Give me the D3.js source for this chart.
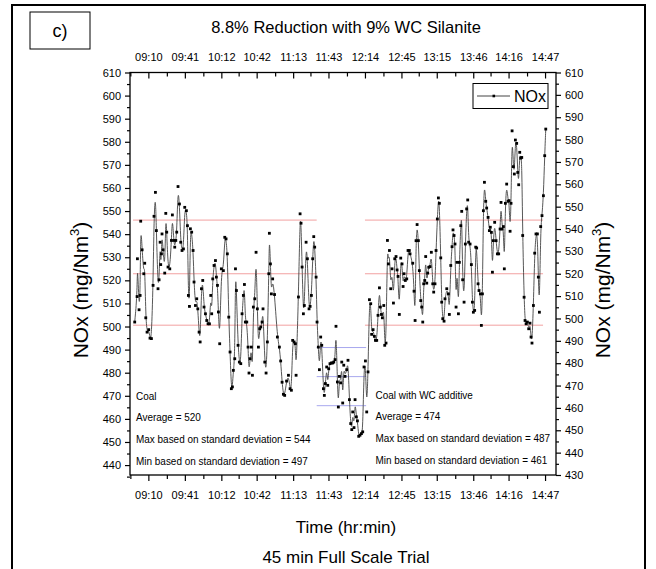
<!DOCTYPE html>
<html><head><meta charset="utf-8">
<script src="https://cdn.jsdelivr.net/npm/d3@7/dist/d3.min.js"></script>
<style>
html,body{margin:0;padding:0;background:#fff;}
svg text{font-family:"Liberation Sans",Arial,Helvetica,sans-serif;fill:#000;}
</style></head>
<body><svg id="c" width="656" height="569"></svg>
<script>
// ---------- DATA ----------
const title = "8.8% Reduction with 9% WC Silanite";
const panelLabel = "c)";
const xTitle = "Time (hr:min)";
const subTitle = "45 min Full Scale Trial";
const seriesName = "NOx";
const timeTickLabels = ["09:10","09:41","10:12","10:42","11:13","11:43","12:14","12:45","13:15","13:46","14:16","14:47"];
const leftTicks = [440,450,460,470,480,490,500,510,520,530,540,550,560,570,580,590,600,610];
const rightTicks = [430,440,450,460,470,480,490,500,510,520,530,540,550,560,570,580,590,600,610];
// time in minutes after midnight
const timeMin = [
538.4,540.4,540.7,542.1,543.0,543.5,544.7,546.1,546.9,547.8,548.9,550.3,551.4,552.6,554.0,554.8,556.0,556.8,558.2,559.1,
560.0,560.5,561.1,561.6,562.5,563.9,564.8,565.6,566.7,568.2,569.6,570.4,571.6,572.4,573.3,574.1,575.2,576.4,577.5,578.6,
579.8,580.9,582.3,583.2,584.0,584.9,585.7,586.8,588.0,588.8,590.0,591.1,592.0,593.1,594.0,595.1,596.2,597.3,598.5,599.6,
600.7,601.9,603.0,603.8,604.7,605.8,607.0,607.8,608.7,609.5,610.6,612.0,613.7,614.9,616.0,617.1,618.3,619.4,620.5,621.4,
622.2,623.4,624.0,624.8,626.2,627.3,628.5,629.6,630.7,631.6,632.4,633.6,634.7,635.5,636.4,637.5,638.4,639.2,640.4,641.5,
642.6,643.5,644.6,645.5,646.6,647.4,648.9,650.0,651.1,652.3,652.8,653.7,654.5,
655.6,657.2,659.6,661.3,662.4,663.6,664.7,665.8,667.4,669.0,670.4,671.5,672.6,673.8,674.9,675.5,677.5,678.9,679.7,680.6,
681.7,682.5,684.0,685.1,686.5,687.4,688.5,689.6,690.5,691.3,692.5,693.3,694.4,695.3,696.4,697.3,698.7,699.5,700.4,701.5,
702.4,703.2,704.3,705.5,706.6,707.5,708.6,709.4,710.6,711.4,712.3,713.4,714.3,715.1,716.0,717.1,718.5,719.6,720.8,721.9,
722.8,723.6,724.7,725.6,726.7,727.6,728.7,729.8,731.0,732.1,733.2,734.4,735.5,736.6,737.8,738.9,739.7,740.9,742.0,742.9,
744.0,745.1,746.3,747.1,748.0,748.8,750.0,750.8,751.9,753.1,753.9,754.8,755.9,757.0,758.2,759.3,760.4,761.3,762.1,763.2,
764.4,765.5,766.4,767.2,768.3,769.5,770.6,771.7,
772.3,774.6,775.7,776.6,777.4,778.3,779.4,780.2,781.4,782.2,783.1,783.9,784.8,785.6,786.5,787.3,788.2,789.3,790.4,791.6,
792.4,793.5,794.4,795.5,796.4,797.2,798.4,799.2,800.1,801.2,802.0,803.5,804.9,805.7,806.9,808.0,808.8,809.7,810.5,811.4,
812.2,813.4,814.2,815.4,816.2,817.0,818.2,819.3,820.4,821.3,822.1,823.3,824.4,825.3,826.1,827.2,828.1,828.9,830.1,830.9,
832.1,832.9,833.8,834.6,835.5,836.6,837.4,838.6,839.7,840.5,841.4,842.3,843.1,844.2,845.4,846.5,847.6,848.8,849.6,850.5,
851.6,852.4,853.3,854.4,855.6,856.4,857.3,858.1,859.0,860.1,860.9,861.8,862.9,863.8,864.6,865.5,866.3,867.2,868.0,869.2,
870.0,870.9,872.0,873.1,874.2,875.1,875.9,877.1,878.2,879.3,880.5,881.3,882.2,883.3,884.4,885.6,886.7,887.6
];
const noxValues = [
498.4,509.8,526.7,503.9,510.3,543.5,530.7,520,524.7,500.3,493.9,495,491.2,491,514.8,545.7,556.4,539.3,513.3,517.3,
534.1,524.1,528.9,537.8,530.7,520.3,547,538.6,523,522.2,534.9,546.3,534.9,531.9,534.9,538.6,559,551.2,534.1,530.4,
531.1,549.7,548.2,541.5,510.3,505.4,540.1,538.6,530.4,516.3,505.8,508.8,504.3,493.9,489.5,513.3,517,505.1,502.1,499.1,
497.6,497.6,510.3,502.1,517.7,523.7,525.9,518.5,514.8,502.9,488.7,522.2,521.4,536.3,535.6,528.9,500.6,485,468.6,469.4,
476.8,482,522.2,512.5,488,480.5,479.8,502.1,510.3,515.2,498.4,498.4,487.2,475.6,482,487.2,474.6,505.1,508.8,529.6,
504.3,487.2,495.4,496.2,498.4,504.3,480.5,475.6,489.5,520,538.1,524.4,511,
517.7,510.7,491.7,487.2,481,471.5,466.1,465.6,472,474.6,468.6,467.9,490.2,489.5,488.7,474.6,509.6,546.8,542.6,523,
502.1,505.8,534.1,526.7,504.3,505.4,510.3,526.7,536.6,531.9,518.5,498.4,487.2,477.1,491.7,488,468.6,465.6,470.9,478.3,
470.1,477.5,479.8,480.1,480.1,480.5,481.6,496.5,471.6,460.4,474.1,471.2,480.5,462.2,479.1,474.1,477.1,481.3,463.7,453,
450.3,458.2,451.2,463.7,456,454.2,447.3,447.8,448.5,449.3,478.3,481,458.2,476.1,508.4,506.6,492.9,495,492,490.2,
490.2,501.4,513.7,505.1,501.8,500.3,505.8,488,489,534.9,524.4,530.4,513.3,522.2,506.9,526.7,527.7,521.7,518.8,501.8,
527,524.4,514.3,520,517,517.7,530.4,530.4,
528.9,524.7,512.2,499.1,534.8,542,534.8,521.4,508,505.1,498.4,515.5,517,527.7,515.8,520.3,522.9,523.2,529.6,515.5,
511.8,515.5,530.4,544.5,553.9,551.5,527.1,507.3,499.9,498.8,508.8,513.3,511,501.8,523.7,532.1,539.6,537.1,533.3,505.1,
525.1,502.1,525.1,541.5,547.9,517.3,507.3,533.3,549,553,534.1,533.3,524.1,507.3,502.8,503.6,531.9,531.5,515.5,512.5,
511,496.9,511,548.2,560.9,552.4,549.4,545.2,539.3,540.8,538.5,520.7,534.8,543,534.8,528.9,528.9,540,551.9,540,
541.1,522.2,551.5,560.1,552.4,552.7,539,551.5,583.9,567.9,564.6,579.8,578.3,565.3,559.8,574.3,571.7,572,537.1,509.5,
499.1,497.6,498.4,495.4,497.9,491.7,489,505.8,529.2,537.8,537.8,518.5,502.8,541.1,546,554.9,572.8,584.7
];
// statistic reference lines: [startMin, endMin] and values
const coalPeriods = [[537, 693], [734, 885.3]];
const coalStats = [544, 520, 497];
const additivePeriod = [693, 735];
const additiveStats = [487, 474, 461];
const coalNotes = ["Coal","Average = 520","Max based on standard deviation = 544","Min based on standard deviation = 497"];
const additiveNotes = ["Coal with WC additive","Average = 474","Max based on standard deviation = 487","Min based on standard deviation = 461"];

// ---------- DRAW ----------
const svg = d3.select("#c");
const L = 130, R = 556, T = 72.5, B = 475;
const toMin = s => { const [h,m] = s.split(":").map(Number); return h*60+m; };
const tickVals = timeTickLabels.map(toMin);
const x = d3.scaleLinear().domain([534.4, 896.3]).range([L, R]);
const yR = d3.scaleLinear().domain([430, 610]).range([B, T]);
const yL = d3.scaleLinear().domain([435.7, 610]).range([B, T]);

// outer frame
svg.append("rect").attr("x",12).attr("y",5).attr("width",633).attr("height",580)
  .attr("fill","none").attr("stroke","#000").attr("stroke-width",2);
// panel label box
svg.append("rect").attr("x",30).attr("y",12).attr("width",60).attr("height",37)
  .attr("fill","#fff").attr("stroke","#000").attr("stroke-width",1);
svg.append("text").attr("x",60).attr("y",37).attr("text-anchor","middle").attr("font-size",18).text(panelLabel);
svg.append("text").attr("x",346).attr("y",33).attr("text-anchor","middle").attr("font-size",16.5).text(title);

const minorVals = [];
for (let i=0;i<tickVals.length;i++){ minorVals.push(tickVals[i]-15.3); }
minorVals.push(tickVals[tickVals.length-1]+15.3);
const minorIn = minorVals.filter(v=>v>=x.domain()[0] && v<=x.domain()[1]);

function styleAxis(g){ g.select(".domain").remove(); g.selectAll("line").attr("stroke","#000").attr("stroke-width",1.2);
  g.selectAll("text").attr("font-size",11).attr("font-family",'"Liberation Sans",Arial,sans-serif'); }

// bottom axis
const gb = svg.append("g").attr("transform",`translate(0,${B})`)
  .call(d3.axisBottom(x).tickValues(tickVals).tickFormat((d,i)=>timeTickLabels[i]).tickSize(6).tickPadding(10));
styleAxis(gb);
const gbm = svg.append("g").attr("transform",`translate(0,${B})`)
  .call(d3.axisBottom(x).tickValues(minorIn).tickFormat("").tickSize(4));
styleAxis(gbm);
// top axis (ticks inward)
const gt = svg.append("g").attr("transform",`translate(0,${T})`)
  .call(d3.axisTop(x).tickValues(tickVals).tickFormat((d,i)=>timeTickLabels[i]).tickSizeInner(-6).tickSizeOuter(0).tickPadding(12));
styleAxis(gt);
const gtm = svg.append("g").attr("transform",`translate(0,${T})`)
  .call(d3.axisTop(x).tickValues(minorIn).tickFormat("").tickSizeInner(-4).tickSizeOuter(0));
styleAxis(gtm);
// left axis
const gl = svg.append("g").attr("transform",`translate(${L},0)`)
  .call(d3.axisLeft(yL).tickValues(leftTicks).tickSize(5).tickPadding(4));
styleAxis(gl);
const gll = svg.append("g").attr("transform",`translate(${L},0)`)
  .call(d3.axisLeft(yL).tickValues(leftTicks.map(v=>v-5)).tickFormat("").tickSize(3));
styleAxis(gll);
// right axis
const gr = svg.append("g").attr("transform",`translate(${R},0)`)
  .call(d3.axisRight(yR).tickValues(rightTicks).tickSize(5).tickPadding(4));
styleAxis(gr);
const grm = svg.append("g").attr("transform",`translate(${R},0)`)
  .call(d3.axisRight(yR).tickValues(rightTicks.slice(1).map(v=>v-5)).tickFormat("").tickSize(3));
styleAxis(grm);

// reference lines
const refs = [];
coalPeriods.forEach(p => coalStats.forEach(v => refs.push({a:p[0], b:p[1], v, c:"#f2a0a0"})));
additiveStats.forEach(v => refs.push({a:additivePeriod[0], b:additivePeriod[1], v, c:"#a8a8ee"}));
svg.append("g").selectAll("line").data(refs).join("line")
  .attr("x1",d=>x(d.a)).attr("x2",d=>x(d.b)).attr("y1",d=>yR(d.v)).attr("y2",d=>yR(d.v))
  .attr("stroke",d=>d.c).attr("stroke-width",1);

// data
const pts = timeMin.map((t,i)=>({t, v:noxValues[i]}));
const line = d3.line().x(d=>x(d.t)).y(d=>yR(d.v)).curve(d3.curveBasis);
svg.append("path").datum(pts).attr("d",line).attr("fill","none").attr("stroke","#444").attr("stroke-width",0.9);
svg.append("g").selectAll("rect").data(pts).join("rect")
  .attr("x",d=>x(d.t)-1.4).attr("y",d=>yR(d.v)-1.4).attr("width",2.8).attr("height",2.8).attr("fill","#000");

// plot frame
svg.append("rect").attr("x",L).attr("y",T).attr("width",R-L).attr("height",B-T)
  .attr("fill","none").attr("stroke","#000").attr("stroke-width",1.3);

// legend
svg.append("rect").attr("x",473).attr("y",83.5).attr("width",75).attr("height",25)
  .attr("fill","#fff").attr("stroke","#000").attr("stroke-width",1);
svg.append("line").attr("x1",477).attr("x2",510).attr("y1",96).attr("y2",96).attr("stroke","#444").attr("stroke-width",1);
svg.append("rect").attr("x",492.5).attr("y",94.7).attr("width",2.6).attr("height",2.6).attr("fill","#000");
svg.append("text").attr("x",514).attr("y",102).attr("font-size",16).text(seriesName);

// notes (slightly condensed, as in the source)
const noteY = [399.5, 420.8, 442.8, 464.8];
function notes(arr, x0, dy){
  const g = svg.append("g");
  const ts = g.selectAll("text").data(arr).join("text")
    .attr("x",x0).attr("y",(d,i)=>noteY[i]+dy).attr("font-size",11).text(d=>d);
  ts.each(function(){ const w = this.getComputedTextLength(); d3.select(this).attr("textLength", w*0.905).attr("lengthAdjust","spacingAndGlyphs"); });
}
notes(coalNotes, 136, 0);
notes(additiveNotes, 375.5, -0.8);

// axis titles
function yTitle(cx){
  const t = svg.append("text").attr("transform",`translate(${cx},290) rotate(-90)`).attr("text-anchor","middle").attr("font-size",21);
  t.append("tspan").text("NOx (mg/Nm");
  t.append("tspan").attr("font-size",13).attr("dy",-9).text("3");
  t.append("tspan").attr("dy",9).text(")");
}
yTitle(88); yTitle(610);
svg.append("text").attr("x",346).attr("y",533).attr("text-anchor","middle").attr("font-size",17).text(xTitle);
svg.append("text").attr("x",346).attr("y",563).attr("text-anchor","middle").attr("font-size",17).text(subTitle);
</script></body></html>
